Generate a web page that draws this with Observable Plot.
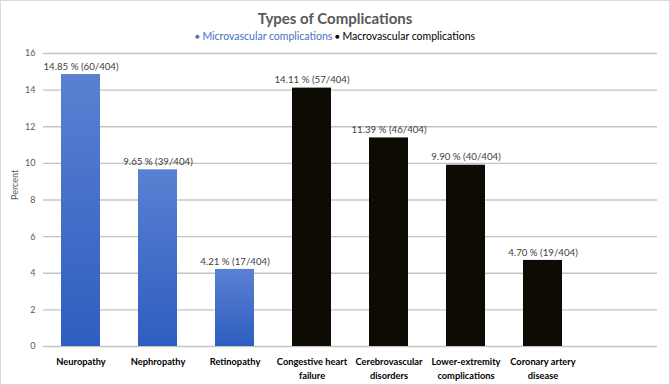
<!DOCTYPE html>
<html>
<head>
<meta charset="utf-8">
<script src="https://cdn.jsdelivr.net/npm/d3@7"></script>
<script src="https://cdn.jsdelivr.net/npm/@observablehq/plot@0.6"></script>
<style>
  body { margin: 0; background: #fff; font-family: Lato, "Open Sans", sans-serif; }
  #frame { width: 668px; height: 383px; border: 1px solid #d9d9d9; position: relative; overflow: hidden; }
  #head { height: 43px; text-align: center; }
  #title { font-size: 15px; font-weight: bold; color: #595959; padding-top: 8px; line-height: 19px; }
  #legend { font-size: 10.5px; line-height: 14px; margin-top: 1px; }
  #legend .dot { font-size: 8px; vertical-align: 1px; }
  svg text { font-family: Lato, "Open Sans", sans-serif; }
</style>
</head>
<body>
<div id="frame">
  <div id="head">
    <div id="title">Types of Complications</div>
    <div id="legend">
      <span style="color:#4472c4"><span class="dot">●</span> Microvascular complications</span>
      <span style="color:#000"><span class="dot">●</span> Macrovascular complications</span>
    </div>
  </div>
  <div id="chart"></div>
</div>
<script>
// Complication types, share of patients (%) and counts out of 404
const categories = ["Neuropathy", "Nephropathy", "Retinopathy", "Congestive heart failure",
  "Cerebrovascular disorders", "Lower-extremity complications", "Coronary artery disease"];
const categoryLines = ["Neuropathy", "Nephropathy", "Retinopathy", "Congestive heart\nfailure",
  "Cerebrovascular\ndisorders", "Lower-extremity\ncomplications", "Coronary artery\ndisease"];
const percents = [14.85, 9.65, 4.21, 14.11, 11.39, 9.90, 4.70];
const counts = [60, 39, 17, 57, 46, 40, 19];
const total = 404;
const groups = ["Micro", "Micro", "Micro", "Macro", "Macro", "Macro", "Macro"];
const yTicks = [0, 2, 4, 6, 8, 10, 12, 14, 16];

const rows = categories.map((c, i) => ({
  cat: c,
  pct: percents[i],
  label: `${percents[i].toFixed(2)} % (${counts[i]}/${total})`,
  fill: groups[i] === "Micro" ? "url(#microGrad)" : "#0e0b04"
}));

// An empty trailing slot keeps the bars spaced as in the original layout
const domain = [...categories, ""];
const lineOf = Object.fromEntries(categories.map((c, i) => [c, categoryLines[i]]));

const chart = Plot.plot({
  width: 668,
  height: 338,
  marginTop: 9,
  marginBottom: 36,
  marginLeft: 42,
  marginRight: 12,
  style: { fontSize: "9px", color: "#595959", background: "transparent" },
  x: { domain, paddingInner: 0.5, paddingOuter: 0.22, label: null },
  y: { domain: [0, 16], ticks: yTicks, label: null },
  marks: [
    Plot.ruleY(yTicks, { y: d => d, stroke: "#c4c4c4", strokeWidth: 1.3 }),
    Plot.axisY({ ticks: yTicks, tickSize: 0, tickPadding: 8, fill: "#595959", fontSize: 9 }),
    Plot.axisX({ tickSize: 0, tickPadding: 9, fill: "#000", fontSize: 9.3, fontWeight: "bold",
      lineHeight: 1.45, tickFormat: d => lineOf[d] ?? "" }),
    Plot.barY(rows, { x: "cat", y: "pct", fill: "fill" }),
    Plot.text(rows, { x: "cat", y: "pct", text: "label", dy: -8, fill: "#404040", fontSize: 9.7 }),
    Plot.text(["Percent"], { frameAnchor: "left", dx: -28, rotate: -90, fill: "#595959", fontSize: 9 })
  ]
});

// Vertical blue gradient used by the microvascular bars
const defs = d3.select(chart).insert("defs", ":first-child");
const g = defs.append("linearGradient").attr("id", "microGrad")
  .attr("gradientUnits", "objectBoundingBox").attr("x1", 0).attr("y1", 0).attr("x2", 0).attr("y2", 1);
g.append("stop").attr("offset", "0%").attr("stop-color", "#5a80d1");
g.append("stop").attr("offset", "100%").attr("stop-color", "#2e5ec0");

document.getElementById("chart").appendChild(chart);
</script>
</body>
</html>
